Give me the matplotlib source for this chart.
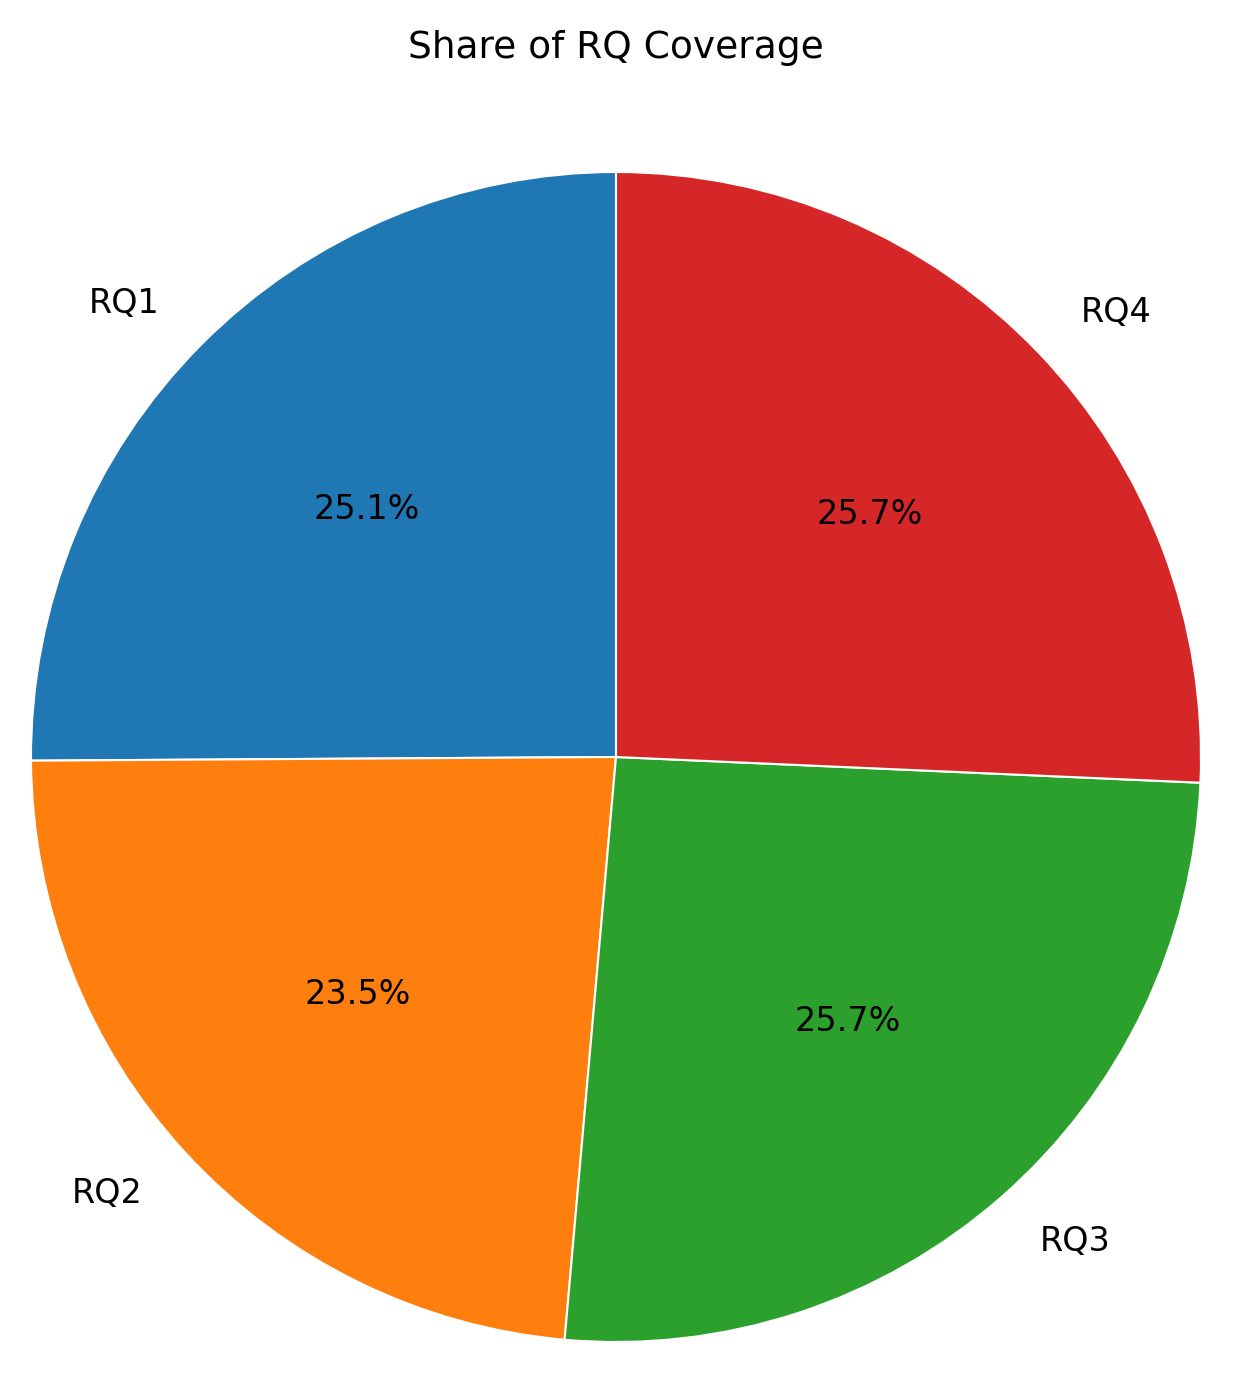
import matplotlib
matplotlib.use("Agg")
import matplotlib.pyplot as plt

labels = ["RQ1", "RQ2", "RQ3", "RQ4"]
shares = [25.1, 23.5, 25.7, 25.7]
colors = ["#1f77b4", "#ff7f0e", "#2ca02c", "#d62728"]

W, H = 1242, 1377
fig = plt.figure(figsize=(W/100, H/100), dpi=100)
cx, cy, r = 616, 757, 585
ax = fig.add_axes([(cx-r)/W, (H-cy-r)/H, 2*r/W, 2*r/H])
ax.pie(shares, labels=labels, colors=colors, autopct="%1.1f%%", startangle=90,
       wedgeprops=dict(edgecolor="white", linewidth=1.5),
       textprops=dict(fontsize=24))
ax.set_xlim(-1, 1); ax.set_ylim(-1, 1)
ax.set_aspect("equal")
fig.text(cx/W, 1-48/H, "Share of RQ Coverage", ha="center", va="center", fontsize=27)
fig.savefig("out.png", dpi=100)
